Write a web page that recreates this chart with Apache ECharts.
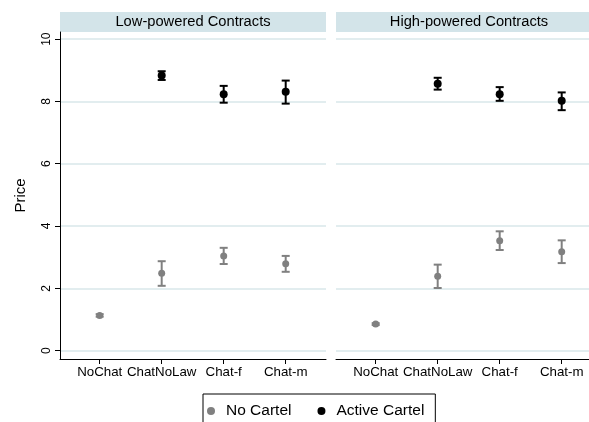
<!DOCTYPE html>
<html>
<head>
<meta charset="utf-8">
<script src="https://cdn.jsdelivr.net/npm/echarts@6/dist/echarts.min.js"></script>
<style>
  html, body { margin: 0; padding: 0; background: #fff; }
  #chart { width: 589px; height: 422px; }
</style>
</head>
<body>
<div id="chart"></div>
<script>
// Treatment categories along the x axis
const categories = ['NoChat', 'ChatNoLaw', 'Chat-f', 'Chat-m'];
const panelTitles = ['Low-powered Contracts', 'High-powered Contracts'];
const yTicks = [0, 2, 4, 6, 8, 10];

// Low-powered contracts: mean price with confidence bounds
const lowNoCartelMean = [1.13, 2.48, 3.04, 2.79];
const lowNoCartelLo   = [1.09, 2.08, 2.78, 2.53];
const lowNoCartelHi   = [1.17, 2.87, 3.30, 3.04];
const lowActiveMean   = [null, 8.83, 8.23, 8.31];
const lowActiveLo     = [null, 8.69, 7.96, 7.93];
const lowActiveHi     = [null, 8.97, 8.50, 8.67];

// High-powered contracts
const highNoCartelMean = [0.85, 2.39, 3.53, 3.17];
const highNoCartelLo   = [0.82, 2.01, 3.23, 2.81];
const highNoCartelHi   = [0.88, 2.76, 3.83, 3.54];
const highActiveMean   = [null, 8.57, 8.23, 8.02];
const highActiveLo     = [null, 8.38, 8.02, 7.72];
const highActiveHi     = [null, 8.76, 8.46, 8.29];

const GRAY = '#808080';
const BLACK = '#000000';
const FONT = "'Liberation Sans', Arial, Helvetica, sans-serif";

function points(means) {
  const out = [];
  means.forEach((m, i) => { if (m != null) out.push([i + 1, m]); });
  return out;
}
function bars(lo, hi) {
  const out = [];
  lo.forEach((l, i) => { if (l != null) out.push([i + 1, l, hi[i]]); });
  return out;
}

function errorBarSeries(idx, lo, hi, color) {
  return {
    type: 'custom',
    name: 'ci-' + idx + '-' + color,
    xAxisIndex: idx, yAxisIndex: idx,
    data: bars(lo, hi),
    z: 2,
    silent: true,
    clip: false,
    renderItem: function (params, api) {
      const x = api.value(0);
      const a = api.coord([x, api.value(1)]);
      const b = api.coord([x, api.value(2)]);
      const cap = 4;
      const style = { stroke: color, lineWidth: 2 };
      return {
        type: 'group',
        children: [
          { type: 'line', shape: { x1: a[0], y1: a[1], x2: b[0], y2: b[1] }, style: style },
          { type: 'line', shape: { x1: a[0] - cap, y1: a[1], x2: a[0] + cap, y2: a[1] }, style: style },
          { type: 'line', shape: { x1: b[0] - cap, y1: b[1], x2: b[0] + cap, y2: b[1] }, style: style }
        ]
      };
    }
  };
}

function pointSeries(idx, name, means, color, size) {
  return {
    type: 'scatter',
    name: name,
    xAxisIndex: idx, yAxisIndex: idx,
    data: points(means),
    symbol: 'circle',
    symbolSize: size,
    itemStyle: { color: color, opacity: 1 },
    z: 3
  };
}

// Both panels share the same x scale; the right one is cut off by the canvas edge
const X_MIN = 0.36;
const X_MAX = 4.65;
const PANEL_W = 266;
const RIGHT_VISIBLE_W = 253;

function xAxisFor(idx) {
  const max = idx === 0 ? X_MAX : X_MIN + (X_MAX - X_MIN) * RIGHT_VISIBLE_W / PANEL_W;
  return {
    type: 'value',
    gridIndex: idx,
    min: X_MIN, max: max,
    axisLine: { show: true, onZero: false, lineStyle: { color: '#000', width: 1 } },
    axisTick: { show: true, length: 5, customValues: [1, 2, 3, 4], lineStyle: { color: '#000' } },
    axisLabel: {
      customValues: [1, 2, 3, 4],
      margin: 7,
      fontFamily: FONT, fontSize: 13.3, color: '#000',
      formatter: v => categories[Math.round(v) - 1]
    },
    splitLine: { show: false }
  };
}

function yAxisFor(idx) {
  const left = idx === 0;
  return {
    type: 'value',
    gridIndex: idx,
    min: -0.27, max: 10.23,
    name: left ? 'Price' : '',
    nameLocation: 'middle',
    nameRotate: 90,
    nameGap: 32,
    nameTextStyle: { fontFamily: FONT, fontSize: 15, color: '#000' },
    axisLine: { show: left, onZero: false, lineStyle: { color: '#000', width: 1 } },
    axisTick: { show: left, length: 5, customValues: yTicks, lineStyle: { color: '#000' } },
    axisLabel: {
      show: left,
      customValues: yTicks,
      rotate: 90,
      margin: 7,
      fontFamily: FONT, fontSize: 12, color: '#000'
    },
    splitLine: { show: true, lineStyle: { color: '#e2edef', width: 2 } }
  };
}

const grids = [
  { left: 60, top: 32, width: PANEL_W, height: 327 },
  { left: 336, top: 32, width: RIGHT_VISIBLE_W, height: 327 }
];
const panelLefts = [60, 336];

const strips = [];
panelLefts.forEach((left, i) => {
  strips.push({
    type: 'rect',
    shape: { x: left, y: 12, width: PANEL_W, height: 20 },
    style: { fill: '#d3e4e9' },
    silent: true
  });
  strips.push({
    type: 'text',
    x: left + PANEL_W / 2, y: 22,
    style: {
      text: panelTitles[i],
      fontFamily: FONT, fontSize: 14.7, fill: '#000',
      align: 'center', verticalAlign: 'middle'
    },
    silent: true
  });
});

const option = {
  animation: false,
  backgroundColor: '#fff',
  grid: grids,
  xAxis: [xAxisFor(0), xAxisFor(1)],
  yAxis: [yAxisFor(0), yAxisFor(1)],
  legend: {
    data: ['No Cartel', 'Active Cartel'],
    left: 203, top: 394,
    orient: 'horizontal',
    itemWidth: 8, itemHeight: 8,
    itemGap: 26,
    padding: [9, 11, 14, 4],
    borderColor: '#000', borderWidth: 1,
    textStyle: { fontFamily: FONT, fontSize: 15.5, color: '#000', padding: [0, 0, 0, 6] }
  },
  graphic: strips,
  series: [
    errorBarSeries(0, lowNoCartelLo, lowNoCartelHi, GRAY),
    errorBarSeries(0, lowActiveLo, lowActiveHi, BLACK),
    pointSeries(0, 'No Cartel', lowNoCartelMean, GRAY, 7),
    pointSeries(0, 'Active Cartel', lowActiveMean, BLACK, 8),
    errorBarSeries(1, highNoCartelLo, highNoCartelHi, GRAY),
    errorBarSeries(1, highActiveLo, highActiveHi, BLACK),
    pointSeries(1, 'No Cartel', highNoCartelMean, GRAY, 7),
    pointSeries(1, 'Active Cartel', highActiveMean, BLACK, 8)
  ]
};

const chart = echarts.init(document.getElementById('chart'), null, { renderer: 'canvas' });
chart.setOption(option);
</script>
</body>
</html>
